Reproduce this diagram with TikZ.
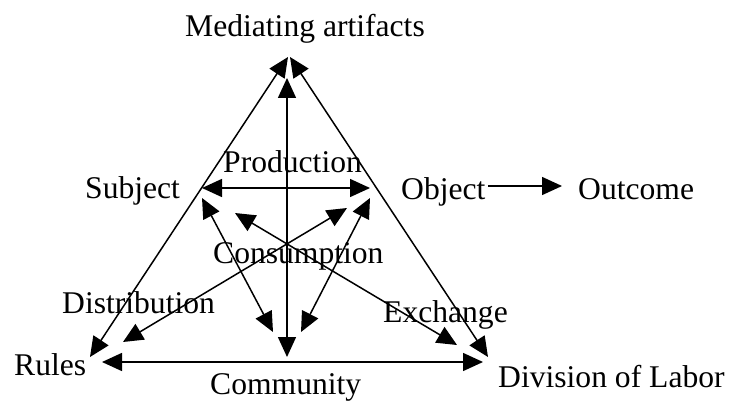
\documentclass[tikz,border=0pt]{standalone}
\usepackage{fontspec}
\setmainfont{Liberation Serif}
\usetikzlibrary{arrows.meta}
\tikzset{
  lbl/.style={anchor=base west, inner sep=0pt, font=\fontsize{31.6}{36}\selectfont},
  tri/.tip={Triangle[length=20pt,width=18pt]},
  link/.style={tri-tri, line width=1.5pt},
  flow/.style={-tri, line width=1.5pt}
}
\begin{document}
\begin{tikzpicture}[x=1pt,y=-1pt]
    \useasboundingbox (0,0) rectangle (730,401);
    \node[lbl] (med) at (185,37) {Mediating artifacts};
    \node[lbl] (prod) at (223,172) {Production};
    \node[lbl] (subj) at (85,198) {Subject};
    \node[lbl] (obj) at (401,199) {Object};
    \node[lbl] (out) at (578,199) {Outcome};
    \node[lbl] (cons) at (213,263) {Consumption};
    \node[lbl] (dist) at (62,313) {Distribution};
    \node[lbl] (exch) at (383,322) {Exchange};
    \node[lbl] (rules) at (14,375) {Rules};
    \node[lbl] (div) at (498,387) {Division of Labor};
    \node[lbl] (comm) at (210,394) {Community};
    \coordinate (apexL) at (288,57);
    \coordinate (apexR) at (290,57);
    \coordinate (rulesT) at (90,357);
    \coordinate (divT) at (488,357);
    \coordinate (medT) at (287,78);
    \coordinate (commT) at (287,357);
    \coordinate (rulesB) at (102,362);
    \coordinate (divB) at (483,362);
    \coordinate (subjP) at (202,188);
    \coordinate (objP) at (370,188);
    \coordinate (subjC) at (202,198);
    \coordinate (commL) at (273,332);
    \coordinate (objC) at (370,198);
    \coordinate (commR) at (301,332);
    \coordinate (subjX) at (235,213);
    \coordinate (divX) at (457,345);
    \coordinate (objX) at (347,208);
    \coordinate (rulesX) at (123,342);
    \coordinate (objO) at (488,186);
    \coordinate (outO) at (562,186);
    \draw[link] (rulesT) -- (apexL);
    \draw[link] (apexR) -- (divT);
    \draw[link] (medT) -- (commT);
    \draw[link] (rulesB) -- (divB);
    \draw[link] (subjP) -- (objP);
    \draw[link] (subjC) -- (commL);
    \draw[link] (objC) -- (commR);
    \draw[link] (subjX) -- (divX);
    \draw[link] (objX) -- (rulesX);
    \draw[flow] (objO) -- (outO);
\end{tikzpicture}
\end{document}
